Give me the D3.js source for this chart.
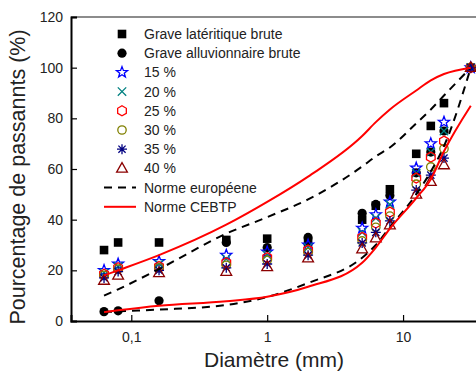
<!DOCTYPE html>
<html>
<head>
<meta charset="utf-8">
<script src="https://cdn.jsdelivr.net/npm/d3@7"></script>
<style>
  body { margin: 0; background: #fff; }
  text { font-family: "Liberation Sans", Arial, sans-serif; fill: #222; }
</style>
</head>
<body>
<svg width="476" height="373"></svg>
<script>
var WIDTH = 476;
var HEIGHT = 373;

// sieve sizes (mm)
var sieves = [0.063, 0.08, 0.16, 0.5, 1, 2, 5, 6.3, 8, 12.5, 16, 20, 31.5];

// passing percentages per material
var lateritic = [28, 31, 31, 32, 32.5, 31, 40, 45.5, 52, 66, 77, 86, 100];
var alluvial  = [3.7, 4, 8, 31, 29, 33, 42.5, 46, 49.5, 58.5, 66.7, 75, 100];
var p15 = [20, 22.5, 23.5, 26, 27.3, 30, 36.7, 42, 47, 60.4, 70, 78.5, 100];
var p20 = [19, 21.5, 22.5, 24.5, 26, 29, 35, 40.6, 46, 58.4, 66.7, 75, 100];
var p25 = [18.5, 21, 21.5, 23, 25, 28, 33, 38.7, 43, 56.4, 64.7, 71, 100];
var p30 = [18, 20.5, 21, 22, 24, 27, 31.6, 37, 41.4, 54, 60.8, 68, 100];
var p35 = [17, 19.5, 20, 21, 22.5, 26, 30.8, 35, 39.5, 51.7, 57.6, 64.3, 100];
var p40 = [16, 18, 19, 19.5, 21.4, 24.8, 28.4, 32.7, 37.9, 50, 55, 61.6, 100];

// grading envelopes
var euroUpper  = [10, 12.5, 20.5, 34.5, 41, 48, 61, 65, 68.5, 78, 83.5, 89, 100];
var euroLower  = [3.5, 3.8, 4.5, 6.3, 9.5, 15, 25, 30, 37, 50, 59, 69, 100];
var cebtpUpper = [18, 20, 26, 38, 47, 57, 73, 78.5, 83.5, 91, 95, 97.5, 100];
var cebtpLower = [3.5, 4.2, 6, 7.8, 9.6, 13.5, 23, 29, 36.5, 48.5, 56, 67, 85];

var yTicks = [0, 20, 40, 60, 80, 100, 120];
var yMinor = [10, 30, 50, 70, 90, 110];
var xMajor = [0.1, 1, 10];
var xMinor = [0.04, 0.05, 0.06, 0.07, 0.08, 0.09, 0.2, 0.3, 0.4, 0.5, 0.6, 0.7, 0.8, 0.9,
              2, 3, 4, 5, 6, 7, 8, 9, 20, 30];

// marker shapes
function starPath(R, r) {
    var p = [];
    for (var i = 0; i < 10; i++) {
        var a = -Math.PI / 2 + i * Math.PI / 5;
        var rad = i % 2 ? r : R;
        p.push([rad * Math.cos(a), rad * Math.sin(a)]);
    }
    return "M" + p.join("L") + "Z";
}
function polyPath(n, R, start) {
    var p = [];
    for (var i = 0; i < n; i++) {
        var a = start + i * 2 * Math.PI / n;
        p.push([R * Math.cos(a), R * Math.sin(a)]);
    }
    return "M" + p.join("L") + "Z";
}
var shapes = {
    square: "M-4.3,-4.3h8.6v8.6h-8.6Z",
    dot: "M-4.6,0a4.6,4.6 0 1,0 9.2,0a4.6,4.6 0 1,0 -9.2,0Z",
    star: starPath(5.8, 2.4),
    times: "M-4.2,-4.2L4.2,4.2M-4.2,4.2L4.2,-4.2",
    hexagon: polyPath(6, 5, -Math.PI / 2),
    ring: "M-4.2,0a4.2,4.2 0 1,0 8.4,0a4.2,4.2 0 1,0 -8.4,0Z",
    asterisk: "M0,-5V5M-5,0H5M-3.6,-3.6L3.6,3.6M-3.6,3.6L3.6,-3.6",
    triangle: "M0,-5.8L5.4,3.8H-5.4Z"
};

var series = [
    {name: "Grave latéritique brute", values: lateritic, shape: "square", color: "#000", fill: true},
    {name: "Grave alluvionnaire brute", values: alluvial, shape: "dot", color: "#000", fill: true},
    {name: "15 %", values: p15, shape: "star", color: "#0000ff"},
    {name: "20 %", values: p20, shape: "times", color: "#008080"},
    {name: "25 %", values: p25, shape: "hexagon", color: "#ff0000"},
    {name: "30 %", values: p30, shape: "ring", color: "#808000"},
    {name: "35 %", values: p35, shape: "asterisk", color: "#000080"},
    {name: "40 %", values: p40, shape: "triangle", color: "#8b0000"}
];
var lines = [
    {name: "Norme européene", upper: euroUpper, lower: euroLower, color: "#000", dash: "8,6"},
    {name: "Norme CEBTP", upper: cebtpUpper, lower: cebtpLower, color: "#ff0000", dash: null}
];

var svg = d3.select("svg");

var x = d3.scaleLog().domain([0.036, 35]).range([71, 477]);
var y = d3.scaleLinear().domain([0, 120]).range([321, 17]);

// frame top
svg.append("line")
    .attr("x1", 71).attr("x2", WIDTH)
    .attr("y1", 17).attr("y2", 17)
    .attr("stroke", "#666").attr("stroke-width", 1.5);

// x axis
var xAxisG = svg.append("g").attr("transform", "translate(0,321)");
xAxisG.call(d3.axisBottom(x).tickValues(xMinor).tickSize(-3).tickFormat(""));
xAxisG.call(d3.axisBottom(x).tickValues(xMajor).tickSize(-6).tickPadding(11)
    .tickFormat(function(d) { return d === 0.1 ? "0,1" : d; }));
xAxisG.selectAll(".domain").attr("stroke", "#000").attr("stroke-width", 2);
xAxisG.selectAll(".tick line").attr("stroke", "#000").attr("stroke-width", 1.2);
xAxisG.selectAll("text").style("font-size", "14px").attr("fill", "#222")
    .style("font-family", "Liberation Sans, Arial, sans-serif");

// y axis
var yAxisG = svg.append("g").attr("transform", "translate(71,0)");
yAxisG.call(d3.axisLeft(y).tickValues(yMinor).tickSize(-3).tickFormat(""));
yAxisG.call(d3.axisLeft(y).tickValues(yTicks).tickSize(-6).tickPadding(8));
yAxisG.selectAll(".domain").attr("stroke", "#000").attr("stroke-width", 2);
yAxisG.selectAll(".tick line").attr("stroke", "#000").attr("stroke-width", 1.2);
yAxisG.selectAll("text").style("font-size", "14px").attr("fill", "#222")
    .style("font-family", "Liberation Sans, Arial, sans-serif");

// axis titles
svg.append("text")
    .attr("x", 274).attr("y", 367)
    .attr("text-anchor", "middle")
    .style("font-size", "21px")
    .text("Diamètre (mm)");
svg.append("text")
    .attr("transform", "translate(25,177) rotate(-90)")
    .attr("text-anchor", "middle")
    .style("font-size", "21.5px")
    .text("Pourcentage de passannts (%)");

// markers
series.forEach(function(s) {
    svg.append("g").selectAll("path")
        .data(sieves.map(function(d, i) { return [d, s.values[i]]; }))
        .enter()
        .append("path")
        .attr("transform", function(d) { return "translate(" + x(d[0]) + "," + y(d[1]) + ")"; })
        .attr("d", shapes[s.shape])
        .attr("fill", s.fill ? s.color : "none")
        .attr("stroke", s.fill ? "none" : s.color)
        .attr("stroke-width", 1.3);
});

// envelope lines
var lineGen = d3.line()
    .x(function(d) { return x(d[0]); })
    .y(function(d) { return y(d[1]); })
    .curve(d3.curveMonotoneX);

lines.forEach(function(l) {
    [l.upper, l.lower].forEach(function(vals) {
        svg.append("path")
            .datum(sieves.map(function(d, i) { return [d, vals[i]]; }))
            .attr("d", lineGen)
            .attr("fill", "none")
            .attr("stroke", l.color)
            .attr("stroke-width", 2)
            .attr("stroke-dasharray", l.dash);
    });
});

// legend
var legend = svg.append("g");
series.forEach(function(s, i) {
    var ly = 34 + i * 19.2;
    legend.append("path")
        .attr("transform", "translate(122," + ly + ")")
        .attr("d", shapes[s.shape])
        .attr("fill", s.fill ? s.color : "none")
        .attr("stroke", s.fill ? "none" : s.color)
        .attr("stroke-width", 1.3);
    legend.append("text")
        .attr("x", 144).attr("y", ly + 5)
        .style("font-size", "14px")
        .text(s.name);
});
lines.forEach(function(l, i) {
    var ly = 34 + (series.length + i) * 19.2;
    legend.append("line")
        .attr("x1", 104).attr("x2", 136)
        .attr("y1", ly).attr("y2", ly)
        .attr("stroke", l.color).attr("stroke-width", 2)
        .attr("stroke-dasharray", l.dash);
    legend.append("text")
        .attr("x", 144).attr("y", ly + 5)
        .style("font-size", "14px")
        .text(l.name);
});
</script>
</body>
</html>
